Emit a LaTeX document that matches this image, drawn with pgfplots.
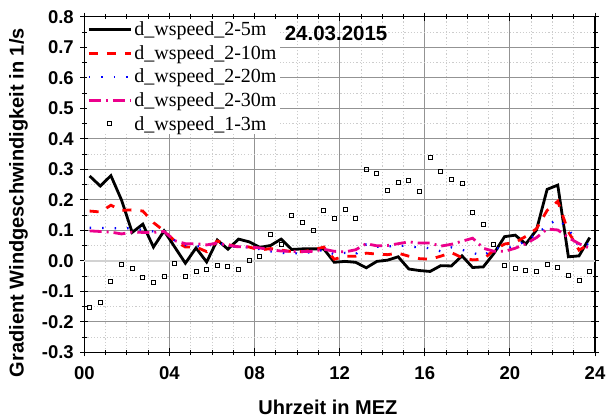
\documentclass[border=0pt]{standalone}
\usepackage{fontspec}
\setmainfont{Liberation Sans}
\newfontfamily\legfont{Liberation Serif}
\usepackage{pgfplots}
\usepackage{pgfplotstable}
\pgfplotsset{compat=1.18}

% half-hourly gradients, 24.03.2015
% t: time (h, MEZ); a: 2-5m; b: 2-10m; c: 2-20m; d: 2-30m; e: 1-3m
\pgfplotstableread{
t      a       b      c      d      e
0.25   0.278   0.163  0.108  0.098  -0.154
0.75   0.245   0.160  0.108  0.096  -0.136
1.25   0.279   0.182  0.106  0.094  -0.069
1.75   0.199   0.165  0.108  0.088  -0.011
2.25   0.093   0.167  0.106  0.094  -0.026
2.75   0.120   0.163  0.101  0.093  -0.054
3.25   0.045   0.125  0.096  0.093  -0.072
3.75   0.098   0.098  0.096  0.096  -0.051
4.25   0.045   0.065  0.066  0.066  -0.009
4.75  -0.008   0.045  0.051  0.056  -0.053
5.25   0.042   0.045  0.048  0.056  -0.035
5.75  -0.004   0.030  0.046  0.052  -0.028
6.25   0.068   0.065  0.061  0.058  -0.015
6.75   0.038   0.053  0.048  0.051  -0.017
7.25   0.071   0.045  0.046  0.046  -0.028
7.75   0.062   0.045  0.044  0.046   0.000
8.25   0.044   0.035  0.038  0.042   0.014
8.75   0.050   0.040  0.031  0.036   0.087
9.25   0.071   0.035  0.026  0.032   0.055
9.75   0.037   0.030  0.024  0.031   0.150
10.25  0.039   0.030  0.026  0.030   0.124
10.75  0.039   0.035  0.028  0.031   0.101
11.25  0.039   0.045  0.036  0.038   0.166
11.75 -0.005   0.005  0.021  0.031   0.140
12.25 -0.002   0.015  0.026  0.029   0.168
12.75 -0.005   0.015  0.021  0.036   0.139
13.25 -0.023   0.025  0.054  0.056   0.300
13.75 -0.002   0.022  0.046  0.049   0.287
14.25  0.002   0.020  0.046  0.050   0.232
14.75  0.013   0.025  0.051  0.056   0.258
15.25 -0.027   0.015  0.046  0.062   0.263
15.75 -0.032   0.007  0.044  0.058   0.226
16.25 -0.035   0.005  0.041  0.058   0.338
16.75 -0.016   0.015  0.031  0.048   0.292
17.25 -0.017   0.027  0.044  0.054   0.265
17.75  0.016   0.010  0.036  0.064   0.254
18.25 -0.022   0.003  0.026  0.074   0.159
18.75 -0.020   0.005  0.016  0.041   0.119
19.25  0.024   0.035  0.041  0.031   0.054
19.75  0.079   0.055  0.041  0.031  -0.015
20.25  0.084   0.060  0.046  0.041  -0.025
20.75  0.055   0.080  0.066  0.056  -0.032
21.25  0.101   0.105  0.086  0.076  -0.036
21.75  0.234   0.165  0.116  0.104  -0.011
22.25  0.248   0.195  0.136  0.101  -0.022
22.75  0.013   0.095  0.106  0.076  -0.049
23.25  0.016   0.035  0.046  0.056  -0.066
23.75  0.076   0.055  0.056  0.041  -0.036
}\gradients

\begin{document}
\begin{tikzpicture}
\begin{axis}[
  name=ax,
  scale only axis,
  width=510.7bp, height=335.6bp,
  xmin=0, xmax=24, ymin=-0.3, ymax=0.8,
  xtick={0,4,...,24},
  xticklabels={00,04,08,12,16,20,24},
  ytick={-0.3,-0.2,...,0.8},
  minor x tick num=3,
  minor y tick num=1,
  /pgf/number format/assume math mode=true,
  yticklabel style={/pgf/number format/fixed, /pgf/number format/fixed zerofill, /pgf/number format/precision=1, xshift=-3bp},
  ticklabel style={font=\fontsize{18.5bp}{20bp}\selectfont\bfseries},
  xticklabel style={yshift=-7bp},
  tick align=center,
  major tick length=8bp,
  minor tick length=5bp,
  tick style={black, line width=0.8bp},
  axis line style={black, line width=1.2bp},
  grid=both,
  major grid style={gray!85, line width=0.9bp},
  minor grid style={gray!40, line width=0.8bp, dash pattern=on 1.2bp off 2bp},
  extra y ticks={0},
  extra y tick labels={},
  extra y tick style={grid=major, major grid style={gray!35, line width=2.4bp}, tick style={draw=none}},
  xlabel={Uhrzeit in MEZ},
  ylabel={Gradient Windgeschwindigkeit in 1/s},
  label style={font=\fontsize{20bp}{22bp}\selectfont\bfseries},
  xlabel style={at={(axis description cs:0.477,-0.1645)}, anchor=center},
  ylabel style={at={(axis description cs:-0.129,0.446)}, anchor=center},
  legend cell align=left,
  legend style={at={(axis description cs:0.004,0.994)}, anchor=north west,
    draw=none, fill=white, inner sep=1bp, row sep=4.2bp,
    font=\legfont\fontsize{20bp}{22bp}\selectfont},
  legend image code/.code={%
    \draw[mark repeat=2, mark phase=2, #1] plot coordinates {(0bp,0bp) (21bp,0bp) (42bp,0bp)};},
]
\addplot[black, line width=2.8bp] table[x=t, y=a] {\gradients};
\addlegendentry{d\_wspeed\_2-5m}
\addplot[red, line width=2.8bp, dash pattern=on 9bp off 9bp] table[x=t, y=b] {\gradients};
\addlegendentry{d\_wspeed\_2-10m}
\addplot[blue, line width=2.2bp, dash pattern=on 1.5bp off 11bp] table[x=t, y=c] {\gradients};
\addlegendentry{d\_wspeed\_2-20m}
\addplot[magenta, line width=2.8bp, dash pattern=on 12bp off 5bp on 2bp off 5bp] table[x=t, y=d] {\gradients};
\addlegendentry{d\_wspeed\_2-30m}
\addplot[only marks, mark=square, mark size=2bp, mark options={black, line width=0.9bp}] table[x=t, y=e] {\gradients};
\addlegendentry{d\_wspeed\_1-3m}
\node[font=\fontsize{20.5bp}{22bp}\selectfont\bfseries, anchor=center]
  at (axis description cs:0.493,0.9505) {24.03.2015};
\end{axis}
\pgfresetboundingbox
\path[use as bounding box] (ax.south west) ++(-84.3bp,-66.7bp) rectangle ++(608bp,419bp);
\end{tikzpicture}
\end{document}
